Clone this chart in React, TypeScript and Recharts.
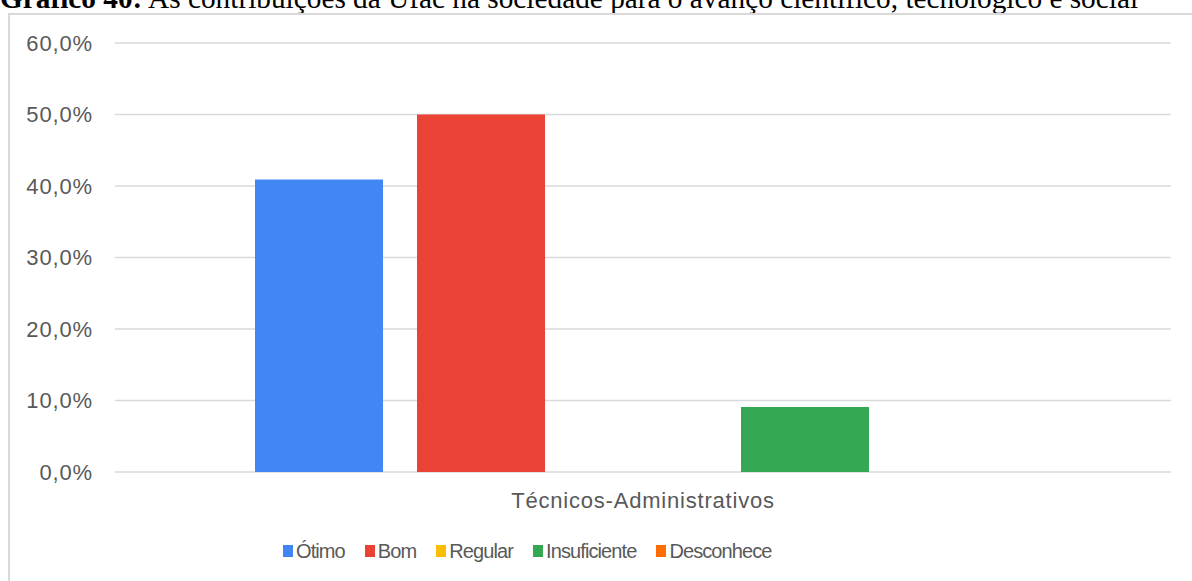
import React from "react";
import { BarChart, Bar, XAxis, YAxis, CartesianGrid, Legend } from "recharts";

const categories = ["Técnicos-Administrativos"];
const seriesNames = ["Ótimo", "Bom", "Regular", "Insuficiente", "Desconhece"];
const seriesValues = [40.9, 50.0, 0, 9.1, 0];
const seriesColors = ["#4285F4", "#EA4335", "#FBBC04", "#34A853", "#FF6D01"];
const yTicks = [0, 10, 20, 30, 40, 50, 60];

const data = categories.map((c) => {
  const row: Record<string, string | number> = { category: c };
  seriesNames.forEach((s, i) => {
    row[s] = seriesValues[i];
  });
  return row;
});

const fmt = (v: number) => v.toFixed(1).replace(".", ",") + "%";

const LegendContent = () => (
  <div
    style={{
      height: 40,
      paddingBottom: 10,
      paddingLeft: 268,
      display: "flex",
      alignItems: "center",
      justifyContent: "flex-start",
      fontFamily: "'Liberation Sans', Arial, sans-serif",
      fontSize: 20,
      color: "#595959",
      letterSpacing: -0.9,
    }}
  >
    {seriesNames.map((s, i) => (
      <div key={s} style={{ display: "flex", alignItems: "center", marginRight: i < seriesNames.length - 1 ? 20 : 0 }}>
        <span style={{ width: 10, height: 12, background: seriesColors[i], display: "inline-block", marginRight: 3 }} />
        <span>{s}</span>
      </div>
    ))}
  </div>
);

export default function App() {
  return (
    <div style={{ position: "absolute", left: 0, top: 0, width: 1192, height: 581, overflow: "hidden", background: "#fff" }}>
      <div
        style={{
          position: "absolute",
          left: 0,
          top: -14,
          whiteSpace: "nowrap",
          fontFamily: "'Liberation Serif', 'Times New Roman', serif",
          fontSize: 29.3,
          lineHeight: "24px",
          color: "#000",
        }}
      >
        <b>Gráfico 40:</b> As contribuições da Ufac na sociedade para o avanço científico, tecnológico e social
      </div>
      <div
        style={{
          position: "absolute",
          left: 8,
          top: 13,
          width: 1300,
          height: 700,
          border: "2px solid #d9d9d9",
          boxSizing: "border-box",
        }}
      />
      <div style={{ position: "absolute", left: 0, top: 0 }}>
        <BarChart
          width={1192}
          height={581}
          data={data}
          margin={{ top: 43, right: 21, bottom: 0, left: 15 }}
          barCategoryGap={140}
          barGap={34}
        >
          <CartesianGrid vertical={false} stroke="#d9d9d9" strokeWidth={1.5} />
          <XAxis
            dataKey="category"
            axisLine={false}
            tickLine={false}
            tickSize={0}
            tickMargin={20}
            height={59}
            tick={{ fill: "#595959", fontSize: 22, fontFamily: "'Liberation Sans', Arial, sans-serif", letterSpacing: 0.8 }}
          />
          <YAxis
            width={100}
            domain={[0, 60]}
            ticks={yTicks}
            tickFormatter={fmt}
            axisLine={false}
            tickLine={false}
            tickSize={0}
            tickMargin={22}
            tick={{ fill: "#595959", fontSize: 22, fontFamily: "'Liberation Sans', Arial, sans-serif", letterSpacing: 0.85 }}
          />
          <Legend verticalAlign="bottom" content={<LegendContent />} />
          {seriesNames.map((s, i) => (
            <Bar key={s} dataKey={s} fill={seriesColors[i]} isAnimationActive={false} />
          ))}
        </BarChart>
      </div>
    </div>
  );
}
